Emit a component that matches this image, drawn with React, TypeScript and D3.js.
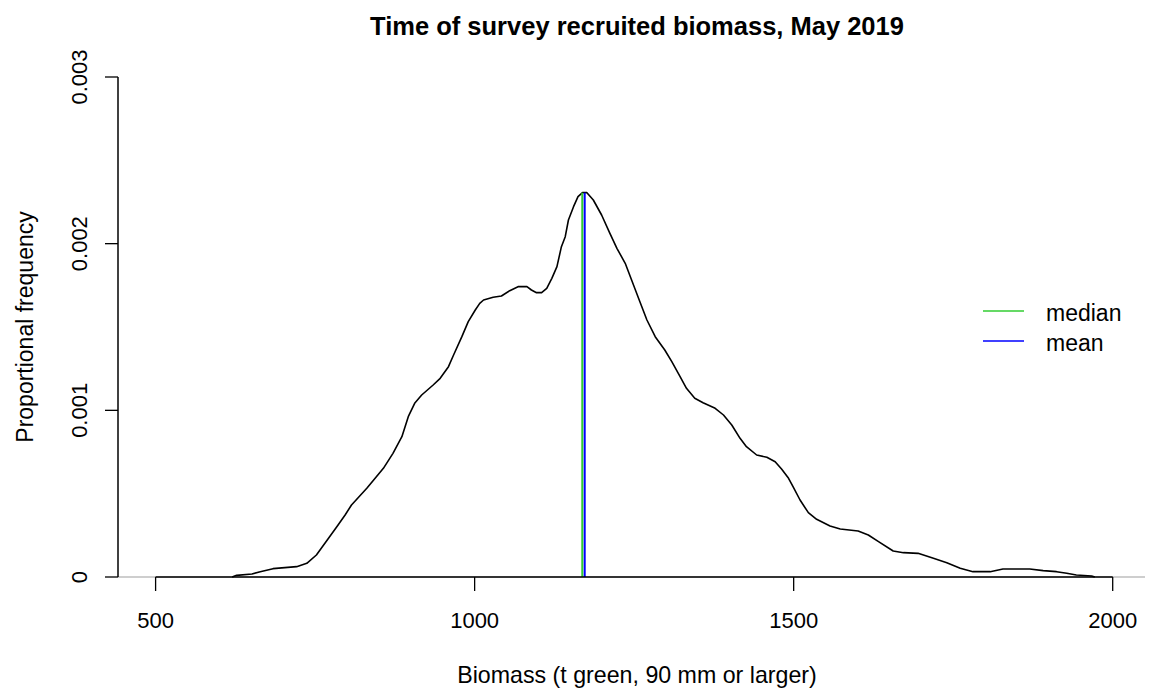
import React, { useEffect, useRef } from 'react';
import * as d3 from 'd3';

// biomass (t) and proportional frequency
const biomass = [
  620, 627, 651, 664, 684, 721, 737, 752, 771, 784, 797, 807, 831, 846, 857, 872, 886, 896, 906, 917,
  935, 946, 959, 967, 980, 990, 1001, 1008, 1014, 1029, 1042, 1055, 1068, 1082, 1089, 1097, 1105, 1113,
  1121, 1129, 1136, 1142, 1147, 1155, 1162, 1169, 1176, 1186, 1199, 1212, 1223, 1236, 1246, 1259, 1270,
  1283, 1298, 1309, 1322, 1332, 1345, 1358, 1377, 1390, 1403, 1416, 1426, 1442, 1458, 1471, 1481, 1492,
  1499, 1510, 1523, 1536, 1557, 1573, 1601, 1617, 1633, 1656, 1672, 1695, 1719, 1740, 1761, 1781, 1808,
  1828, 1870, 1891, 1912, 1928, 1943, 1967, 1972,
];
const density = [
  0, 0.01, 0.018, 0.032, 0.05, 0.062, 0.082, 0.132, 0.232, 0.302, 0.372, 0.432, 0.532, 0.602, 0.652,
  0.742, 0.842, 0.962, 1.042, 1.092, 1.152, 1.192, 1.262, 1.332, 1.442, 1.532, 1.602, 1.642, 1.662,
  1.678, 1.686, 1.718, 1.742, 1.742, 1.722, 1.706, 1.706, 1.732, 1.792, 1.862, 1.982, 2.042, 2.142,
  2.222, 2.282, 2.306, 2.306, 2.262, 2.172, 2.062, 1.972, 1.882, 1.782, 1.652, 1.542, 1.442, 1.362,
  1.292, 1.202, 1.132, 1.072, 1.046, 1.012, 0.972, 0.912, 0.832, 0.782, 0.732, 0.718, 0.692, 0.648,
  0.592, 0.542, 0.462, 0.386, 0.346, 0.306, 0.288, 0.276, 0.252, 0.212, 0.156, 0.146, 0.142, 0.112,
  0.086, 0.052, 0.032, 0.032, 0.048, 0.048, 0.038, 0.032, 0.022, 0.012, 0.006, 0,
].map(d => d / 1000);

const medianValue = 1168.7;
const meanValue = 1172.5;
const peakDensity = 0.002306;

const xTicks = [500, 1000, 1500, 2000];
const yTicks = [0, 0.001, 0.002, 0.003];
const yTickLabels = ['0', '0.001', '0.002', '0.003'];
const legendLabels = ['median', 'mean'];
const legendColors = ['#32cd32', '#0000ff'];

export default function App() {
  const ref = useRef<SVGSVGElement>(null);

  useEffect(() => {
    if (!ref.current) return;
    const svg = d3.select(ref.current);
    svg.selectAll('*').remove();

    const font = '"Liberation Sans", Arial, sans-serif';
    const plotLeft = 118;
    const plotRight = 1145;

    const x = d3.scaleLinear().domain([500, 2000]).range([155.6, 1112.7]);
    const y = d3.scaleLinear().domain([0, 0.003]).range([577, 77]);

    // zero line across the plot region
    svg.append('line')
      .attr('x1', plotLeft).attr('x2', plotRight)
      .attr('y1', y(0)).attr('y2', y(0))
      .attr('stroke', '#bebebe').attr('stroke-width', 1.5);

    // density curve
    const pts = biomass.map((b, i) => [b, density[i]] as [number, number]);
    const line = d3.line<[number, number]>()
      .x(d => x(d[0]))
      .y(d => y(d[1]));
    svg.append('path')
      .datum(pts)
      .attr('d', line)
      .attr('fill', 'none')
      .attr('stroke', '#000')
      .attr('stroke-width', 1.6)
      .attr('stroke-linejoin', 'round');

    // median and mean lines
    [medianValue, meanValue].forEach((v, i) => {
      svg.append('line')
        .attr('x1', x(v)).attr('x2', x(v))
        .attr('y1', y(0)).attr('y2', y(peakDensity))
        .attr('stroke', legendColors[i])
        .attr('stroke-width', 2);
    });

    // x axis
    const xAxis = svg.append('g');
    xAxis.append('line')
      .attr('x1', x(xTicks[0])).attr('x2', x(xTicks[xTicks.length - 1]))
      .attr('y1', y(0)).attr('y2', y(0))
      .attr('stroke', '#000').attr('stroke-width', 1.5);
    xTicks.forEach(t => {
      xAxis.append('line')
        .attr('x1', x(t)).attr('x2', x(t))
        .attr('y1', y(0)).attr('y2', y(0) + 14)
        .attr('stroke', '#000').attr('stroke-width', 1.3);
      xAxis.append('text')
        .attr('x', x(t)).attr('y', 627.5)
        .attr('text-anchor', 'middle')
        .attr('font-family', font).attr('font-size', 22)
        .text(t);
    });

    // y axis
    const yAxis = svg.append('g');
    yAxis.append('line')
      .attr('x1', plotLeft).attr('x2', plotLeft)
      .attr('y1', y(0)).attr('y2', y(0.003))
      .attr('stroke', '#000').attr('stroke-width', 1.5);
    yTicks.forEach((t, i) => {
      yAxis.append('line')
        .attr('x1', plotLeft - 13).attr('x2', plotLeft)
        .attr('y1', y(t)).attr('y2', y(t))
        .attr('stroke', '#000').attr('stroke-width', 1.3);
      yAxis.append('text')
        .attr('transform', `translate(87, ${y(t)}) rotate(-90)`)
        .attr('text-anchor', 'middle')
        .attr('font-family', font).attr('font-size', 22)
        .text(yTickLabels[i]);
    });

    // titles
    svg.append('text')
      .attr('x', 637).attr('y', 35)
      .attr('text-anchor', 'middle')
      .attr('font-family', font).attr('font-size', 25.5).attr('font-weight', 'bold')
      .text('Time of survey recruited biomass, May 2019');
    svg.append('text')
      .attr('x', 637).attr('y', 683)
      .attr('text-anchor', 'middle')
      .attr('font-family', font).attr('font-size', 23.2)
      .text('Biomass (t green, 90 mm or larger)');
    svg.append('text')
      .attr('transform', `translate(33, 327) rotate(-90)`)
      .attr('text-anchor', 'middle')
      .attr('font-family', font).attr('font-size', 23)
      .text('Proportional frequency');

    // legend
    legendLabels.forEach((lab, i) => {
      const ly = 311 + i * 30;
      svg.append('line')
        .attr('x1', 983).attr('x2', 1024)
        .attr('y1', ly).attr('y2', ly)
        .attr('stroke', legendColors[i]).attr('stroke-width', 1.6);
      svg.append('text')
        .attr('x', 1046).attr('y', ly + 9.5)
        .attr('font-family', font).attr('font-size', 23)
        .text(lab);
    });
  }, []);

  return (
    <svg
      ref={ref}
      width={1150}
      height={690}
      style={{ position: 'absolute', left: 0, top: 0, background: '#fff' }}
    />
  );
}
